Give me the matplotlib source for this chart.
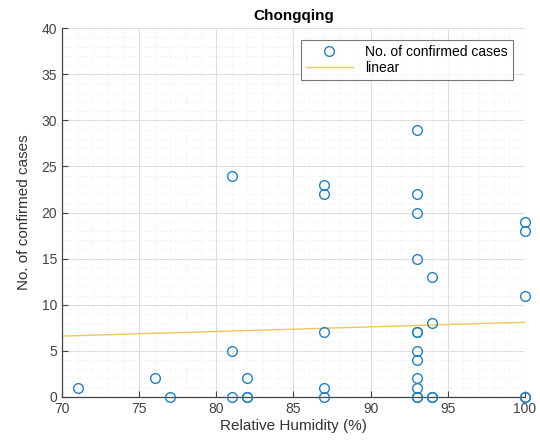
import matplotlib
matplotlib.use("Agg")
import matplotlib.pyplot as plt
from matplotlib.ticker import MultipleLocator

plt.rcParams['font.family'] = ['Liberation Sans', 'DejaVu Sans']

humidity = [71, 76, 77, 81, 81, 81, 82, 82, 82,
            87, 87, 87, 87, 87,
            93, 93, 93, 93, 93, 93, 93, 93, 93, 93, 93, 93,
            94, 94, 94, 94,
            100, 100, 100, 100, 100]
cases = [1, 2, 0, 24, 5, 0, 2, 0, 0,
         23, 22, 7, 1, 0,
         29, 22, 20, 15, 7, 7, 5, 4, 2, 1, 0, 0,
         13, 8, 0, 0,
         19, 18, 11, 0, 0]
linear_x = [70, 100]
linear_y = [6.6, 8.1]

fig = plt.figure(figsize=(5.4, 4.47), dpi=100)
ax = fig.add_axes([0.115, 0.112, 0.857, 0.825])

blue = (0.15, 0.5, 0.72)
yellow = (0.93, 0.78, 0.35)

ax.plot(humidity, cases, 'o', mfc='none', mec=blue, mew=1.0, ms=7,
        label='No. of confirmed cases', zorder=3, clip_on=False)
ax.plot(linear_x, linear_y, '-', color=yellow, lw=1.0, label='linear', zorder=2)

ax.set_xlim(70, 100)
ax.set_ylim(0, 40)
ax.xaxis.set_major_locator(MultipleLocator(5))
ax.yaxis.set_major_locator(MultipleLocator(5))
ax.xaxis.set_minor_locator(MultipleLocator(1))
ax.yaxis.set_minor_locator(MultipleLocator(1))

ax.grid(True, which='major', color='#dedede', lw=0.8)
ax.grid(True, which='minor', color='#ececec', lw=0.6, ls=':')
ax.set_axisbelow(True)

for s in ['top', 'right']:
    ax.spines[s].set_visible(False)
for s in ['left', 'bottom']:
    ax.spines[s].set_color('#444444')
    ax.spines[s].set_linewidth(0.9)

ax.tick_params(which='major', direction='in', length=4, color='#444444',
               labelsize=10, labelcolor='#444444')
ax.tick_params(which='minor', length=0)

ax.set_xlabel('Relative Humidity (%)', fontsize=11, color='#333333', labelpad=2)
ax.set_ylabel('No. of confirmed cases', fontsize=11, color='#333333', labelpad=8)
ax.set_title('Chongqing', fontsize=11, fontweight='bold', pad=6)

leg = ax.legend(loc='upper right', bbox_to_anchor=(0.974, 0.967), borderaxespad=0,
                fontsize=10, frameon=True, fancybox=False, edgecolor='#555555',
                borderpad=0.35, handlelength=3.4, labelspacing=0.15,
                handletextpad=0.9)
leg.get_frame().set_linewidth(0.8)

fig.savefig('out.png', dpi=100)
